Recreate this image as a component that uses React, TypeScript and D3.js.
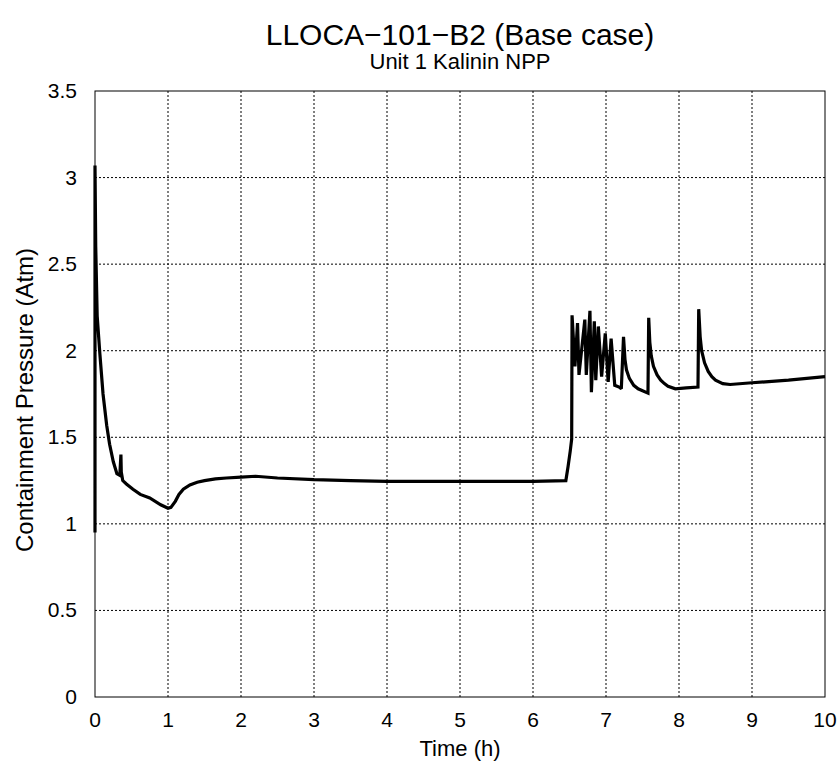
import React, { useRef, useEffect } from 'react';
import * as d3 from 'd3';

// time (h) and containment pressure (atm)
const timeH = [
  0, 0, 0.01, 0.03, 0.067, 0.11, 0.16, 0.2, 0.25, 0.3, 0.34, 0.355, 0.36, 0.38, 0.43, 0.52, 0.62, 0.75, 0.9, 0.95, 1.0,
  1.04, 1.1, 1.15, 1.21, 1.3, 1.4, 1.5, 1.65, 1.8, 2.0, 2.2, 2.5, 3.0, 3.5, 4.0, 5.0, 6.0, 6.45, 6.48, 6.51, 6.53, 6.535,
  6.575, 6.61, 6.63, 6.71, 6.73, 6.78, 6.8, 6.84, 6.86, 6.895, 6.94, 6.99, 7.03, 7.07, 7.12, 7.18, 7.21,
  7.24, 7.26, 7.28, 7.32, 7.38, 7.44, 7.575, 7.585, 7.6, 7.62, 7.65, 7.7, 7.75, 7.8, 7.85, 7.95, 8.1, 8.26,
  8.27, 8.29, 8.31, 8.35, 8.4, 8.45, 8.5, 8.6, 8.7, 9.0, 9.5, 10.0,
];
const pressure = [
  0.95, 3.07, 2.6, 2.2, 1.98, 1.75, 1.57, 1.46, 1.36, 1.29, 1.28, 1.4, 1.3, 1.25, 1.23, 1.2, 1.17, 1.15, 1.11, 1.1, 1.09,
  1.095, 1.13, 1.17, 1.2, 1.225, 1.24, 1.25, 1.26, 1.265, 1.27, 1.275, 1.265, 1.255, 1.25, 1.245, 1.245, 1.245, 1.25, 1.33, 1.42, 1.49, 2.205,
  1.91, 2.16, 1.86, 2.18, 1.86, 2.23, 1.76, 2.17, 1.83, 2.14, 1.85, 2.1, 1.82, 2.07, 1.8, 1.79, 1.78,
  2.08, 1.95, 1.89, 1.84, 1.8, 1.78, 1.755, 2.19, 2.05, 1.97, 1.91, 1.86, 1.83, 1.81, 1.795, 1.78, 1.785, 1.79,
  2.24, 2.08, 2.0, 1.93, 1.88, 1.85, 1.83, 1.81, 1.805, 1.815, 1.83, 1.85,
];

const xTicks = [0, 1, 2, 3, 4, 5, 6, 7, 8, 9, 10];
const yTicks = [0, 0.5, 1, 1.5, 2, 2.5, 3, 3.5];

const title = 'LLOCA\u2212101\u2212B2 (Base case)';
const subtitle = 'Unit 1 Kalinin NPP';

const App = () => {
  const ref = useRef<SVGSVGElement>(null);

  useEffect(() => {
    const svg = d3.select(ref.current);
    svg.selectAll('*').remove();

    const margin = { top: 91, right: 14, bottom: 64, left: 95 },
      W = 839, H = 761,
      width = W - margin.left - margin.right,
      height = H - margin.top - margin.bottom;

    const font = 'Liberation Sans, Arial, sans-serif';

    const x = d3.scaleLinear().domain([0, 10]).range([0, width]);
    const y = d3.scaleLinear().domain([0, 3.5]).range([height, 0]);

    const g = svg.append('g').attr('transform', `translate(${margin.left}, ${margin.top})`);

    // dotted grid
    g.selectAll('.vgrid').data(xTicks.slice(1, -1)).enter().append('line')
      .attr('x1', d => x(d)).attr('x2', d => x(d))
      .attr('y1', 0).attr('y2', height)
      .attr('stroke', '#000').attr('stroke-width', 1).attr('stroke-dasharray', '2,2');
    g.selectAll('.hgrid').data(yTicks.slice(1, -1)).enter().append('line')
      .attr('y1', d => y(d)).attr('y2', d => y(d))
      .attr('x1', 0).attr('x2', width)
      .attr('stroke', '#000').attr('stroke-width', 1).attr('stroke-dasharray', '2,2');

    const data = timeH.map((t, i) => ({ t, p: pressure[i] }));
    const line = d3.line<{ t: number; p: number }>().x(d => x(d.t)).y(d => y(d.p));
    g.append('path').datum(data)
      .attr('fill', 'none').attr('stroke', '#000').attr('stroke-width', 3.2)
      .attr('stroke-linejoin', 'miter').attr('stroke-miterlimit', 2)
      .attr('d', line);

    // frame
    g.append('rect').attr('width', width).attr('height', height)
      .attr('fill', 'none').attr('stroke', '#000').attr('stroke-width', 1);

    // tick labels
    g.selectAll('.xt').data(xTicks).enter().append('text')
      .attr('x', d => x(d)).attr('y', height + 30)
      .attr('text-anchor', 'middle').attr('font-family', font).attr('font-size', 21)
      .text(d => d);
    g.selectAll('.yt').data(yTicks).enter().append('text')
      .attr('x', -18).attr('y', d => y(d) + 7)
      .attr('text-anchor', 'end').attr('font-family', font).attr('font-size', 21)
      .text(d => d);

    // titles
    svg.append('text').attr('x', margin.left + width / 2).attr('y', 45)
      .attr('text-anchor', 'middle').attr('font-family', font).attr('font-size', 30).text(title);
    svg.append('text').attr('x', margin.left + width / 2).attr('y', 69)
      .attr('text-anchor', 'middle').attr('font-family', font).attr('font-size', 22).text(subtitle);
    svg.append('text').attr('x', margin.left + width / 2).attr('y', 756)
      .attr('text-anchor', 'middle').attr('font-family', font).attr('font-size', 22).text('Time (h)');
    svg.append('text')
      .attr('transform', `translate(33, 400) rotate(-90)`)
      .attr('text-anchor', 'middle').attr('font-family', font).attr('font-size', 24)
      .text('Containment Pressure (Atm)');
  }, []);

  return (
    <svg ref={ref} width={839} height={761}
      style={{ position: 'absolute', left: 0, top: 0, background: '#fff' }} />
  );
};

export default App;
